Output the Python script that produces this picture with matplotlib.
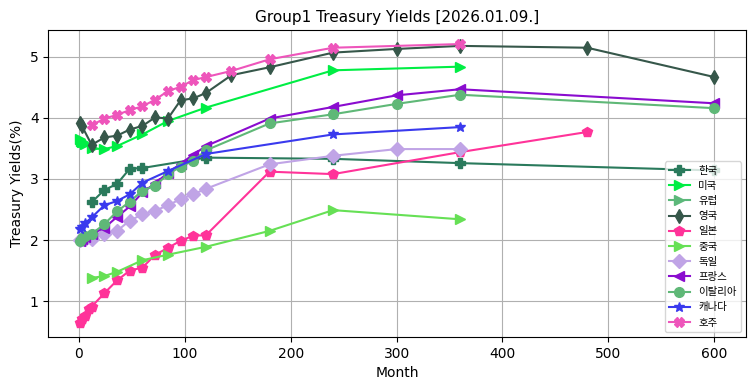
import matplotlib.pyplot as plt

plt.rcParams['font.family'] = ['DejaVu Sans', 'Noto Sans CJK KR']

# 만기(개월) / 수익률(%)
kr_month = [12, 24, 36, 48, 60, 120, 240, 360, 600]
kr_yield = [2.62, 2.82, 2.92, 3.17, 3.18, 3.35, 3.33, 3.26, 3.14]

us_month = [1, 2, 3, 4, 6, 12, 24, 36, 60, 84, 120, 240, 360]
us_yield = [3.65, 3.63, 3.61, 3.60, 3.57, 3.50, 3.49, 3.54, 3.73, 3.95, 4.17, 4.78, 4.84]

eu_month = []
eu_yield = []

uk_month = [1, 3, 12, 24, 36, 48, 60, 72, 84, 96, 108, 120, 144, 180, 240, 300, 360, 480, 600]
uk_yield = [3.91, 3.86, 3.56, 3.68, 3.71, 3.81, 3.87, 4.01, 3.99, 4.29, 4.32, 4.41, 4.70,
            4.83, 5.07, 5.13, 5.18, 5.15, 4.67]

jp_month = [1, 3, 6, 9, 12, 24, 36, 48, 60, 72, 84, 96, 108, 120, 180, 240, 360, 480]
jp_yield = [0.64, 0.70, 0.75, 0.87, 0.91, 1.13, 1.34, 1.50, 1.55, 1.76, 1.87, 1.99, 2.07,
            2.08, 3.12, 3.08, 3.44, 3.77]

cn_month = [12, 24, 36, 60, 84, 120, 180, 240, 360]
cn_yield = [1.38, 1.41, 1.48, 1.67, 1.76, 1.89, 2.15, 2.49, 2.34]

de_month = [1, 3, 6, 12, 24, 36, 48, 60, 72, 84, 96, 108, 120, 180, 240, 300, 360]
de_yield = [2.00, 2.02, 2.01, 2.01, 2.10, 2.15, 2.32, 2.42, 2.48, 2.57, 2.67, 2.75, 2.84,
            3.24, 3.38, 3.49, 3.49]

fr_month = [1, 3, 6, 12, 24, 36, 48, 60, 72, 84, 96, 108, 120, 180, 240, 300, 360, 600]
fr_yield = [1.98, 2.02, 2.05, 2.10, 2.20, 2.38, 2.55, 2.78, 2.93, 3.10, 3.25, 3.40, 3.54,
            3.99, 4.18, 4.37, 4.47, 4.24]

it_month = [1, 3, 6, 12, 24, 36, 48, 60, 72, 84, 96, 108, 120, 180, 240, 300, 360, 600]
it_yield = [1.98, 2.03, 2.07, 2.10, 2.26, 2.47, 2.63, 2.81, 2.89, 3.08, 3.20, 3.30, 3.47,
            3.91, 4.06, 4.23, 4.38, 4.16]

ca_month = [1, 3, 6, 12, 24, 36, 48, 60, 84, 120, 240, 360]
ca_yield = [2.18, 2.22, 2.28, 2.37, 2.57, 2.64, 2.75, 2.94, 3.13, 3.41, 3.73, 3.85]

au_month = [12, 24, 36, 48, 60, 72, 84, 96, 108, 120, 144, 180, 240, 360]
au_yield = [3.88, 3.99, 4.05, 4.13, 4.19, 4.30, 4.44, 4.51, 4.62, 4.67, 4.77, 4.96, 5.15, 5.21]

series = [
    ('한국', kr_month, kr_yield, '#2a7a5c', 'P'),
    ('미국', us_month, us_yield, '#00ee44', '>'),
    ('유럽', eu_month, eu_yield, '#5cb87a', '>'),
    ('영국', uk_month, uk_yield, '#36574a', 'd'),
    ('일본', jp_month, jp_yield, '#ff3399', 'p'),
    ('중국', cn_month, cn_yield, '#66e055', '>'),
    ('독일', de_month, de_yield, '#c0a4e6', 'D'),
    ('프랑스', fr_month, fr_yield, '#8a0ccf', '<'),
    ('이탈리아', it_month, it_yield, '#5fb877', 'o'),
    ('캐나다', ca_month, ca_yield, '#3a3aee', '*'),
    ('호주', au_month, au_yield, '#ee55bb', 'X'),
]

fig, ax = plt.subplots(figsize=(7.55, 3.91), dpi=100)

for name, m, y, c, mk in series:
    ax.plot(m, y, marker=mk, color=c, label=name, linewidth=1.5, markersize=7)

ax.set_title('Group1 Treasury Yields [2026.01.09.]', fontsize=11)
ax.set_xlabel('Month')
ax.set_ylabel('Treasury Yields(%)')
ax.grid(True)
ax.legend(loc='lower right', fontsize=7.5, prop={'family': ['Noto Sans CJK KR'], 'size': 7.5})

plt.subplots_adjust(left=0.064, right=0.988, top=0.923, bottom=0.138)
plt.savefig('out.png')
